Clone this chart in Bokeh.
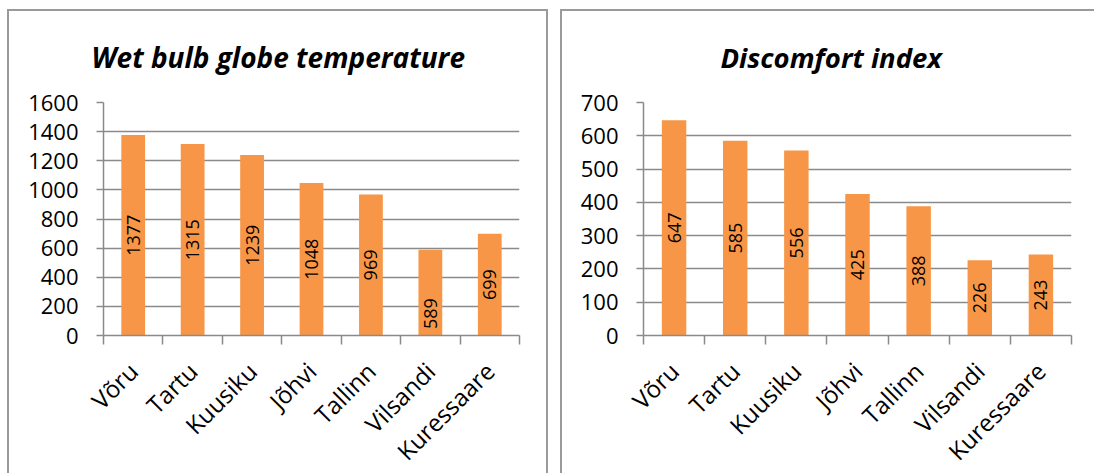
from math import pi

from bokeh.core.properties import value
from bokeh.embed import file_html
from bokeh.layouts import row
from bokeh.models import ColumnDataSource, FixedTicker, Range1d
from bokeh.plotting import figure
from bokeh.resources import INLINE

# Stations ordered as in the report
stations = ["Võru", "Tartu", "Kuusiku", "Jõhvi", "Tallinn", "Vilsandi", "Kuressaare"]

# Number of cases per station for each heat-stress index
wbgt_values = [1377, 1315, 1239, 1048, 969, 589, 699]
discomfort_values = [647, 585, 556, 425, 388, 226, 243]

# Value-axis ticks
wbgt_ticks = [0, 200, 400, 600, 800, 1000, 1200, 1400, 1600]
discomfort_ticks = [0, 100, 200, 300, 400, 500, 600, 700]

BAR_COLOR = "#F79646"
LINE_GREY = "#8a8a8a"
PANEL_GREY = "#9a9a9a"
FONT = "Open Sans"

PAGE_HEIGHT = 473
FIG_HEIGHT = 540  # lower part of each panel runs past the page edge


def bar_chart(title, values, ticks, width, border_left, border_right,
              title_offset, title_size, label_nudge=None):
    n = len(stations)
    centers = [i + 0.5 for i in range(n)]
    source = ColumnDataSource(dict(
        x=centers,
        top=values,
        mid=[v / 2 for v in values],
        label=[str(v) for v in values],
        nudge=label_nudge if label_nudge is not None else [0] * n,
    ))

    frame_top = 93
    frame_height = 233
    p = figure(
        width=width, height=FIG_HEIGHT,
        x_range=Range1d(0, n), y_range=Range1d(ticks[0], ticks[-1]),
        output_backend="svg", toolbar_location=None,
        min_border_left=border_left, min_border_right=border_right,
        min_border_top=frame_top,
        min_border_bottom=FIG_HEIGHT - frame_top - frame_height,
        outline_line_color=None,
        background_fill_color="white", border_fill_color=None,
    )

    p.title.text = title
    p.title.align = "left"
    p.title.offset = title_offset
    p.title.standoff = 53
    p.title.text_font = FONT
    p.title.text_font_size = title_size
    p.title.text_font_style = "bold italic"
    p.title.text_color = "black"

    p.vbar(x="x", top="top", bottom=0, width=0.4, source=source,
           fill_color=BAR_COLOR, line_color=None)

    # Value labels, rotated and centred inside each bar
    p.text(x="x", y="mid", text="label", source=source, angle=pi / 2,
           y_offset="nudge",
           text_align="center", text_baseline="middle",
           text_font=value(FONT), text_font_size="18px", text_color="black")

    # Category axis: names under bar centres, tick marks on category borders
    xa = p.xaxis[0]
    xa.ticker = FixedTicker(ticks=centers, minor_ticks=list(range(n + 1)))
    xa.major_label_overrides = {c: s for c, s in zip(centers, stations)}
    xa.major_label_orientation = pi / 4
    xa.major_label_text_font = FONT
    xa.major_label_text_font_size = "24px"
    xa.major_label_text_color = "black"
    xa.major_label_standoff = 22
    xa.major_tick_line_color = None
    xa.minor_tick_line_color = LINE_GREY
    xa.minor_tick_line_width = 1.5
    xa.minor_tick_in = 0
    xa.minor_tick_out = 9
    xa.axis_line_color = LINE_GREY
    xa.axis_line_width = 1.5

    # Value axis
    ya = p.yaxis[0]
    ya.ticker = FixedTicker(ticks=ticks)
    ya.major_label_text_font = FONT
    ya.major_label_text_font_size = "22px"
    ya.major_label_text_color = "black"
    ya.major_label_standoff = 18
    ya.major_tick_in = 0
    ya.major_tick_out = 7
    ya.major_tick_line_color = LINE_GREY
    ya.major_tick_line_width = 1.5
    ya.minor_tick_line_color = None
    ya.axis_line_color = LINE_GREY
    ya.axis_line_width = 1.5

    p.xgrid.visible = False
    p.ygrid.grid_line_color = LINE_GREY
    p.ygrid.grid_line_width = 1.5
    return p


left = bar_chart("Wet bulb globe temperature", wbgt_values, wbgt_ticks,
                 width=541, border_left=96, border_right=29,
                 title_offset=-12, title_size="28px",
                 label_nudge=[0, 0, 0, 0, 0, 21, 0])
# Panel frame: top, left and right edges (canvas is transparent outside the plot area)
left.styles = {"box-shadow": f"inset 2px 2px 0 0 {PANEL_GREY}, inset -2px 0 0 0 {PANEL_GREY}"}
left.margin = (9, 0, 0, 7)

right = bar_chart("Discomfort index", discomfort_values, discomfort_ticks,
                  width=534, border_left=83, border_right=23,
                  title_offset=77, title_size="27.5px")
right.styles = {"box-shadow": f"inset 2px 2px 0 0 {PANEL_GREY}"}
right.margin = (9, 0, 0, 12)

# Panels are cut off at the bottom edge of the page
layout = row(left, right, styles={"overflow": "hidden", "max-height": f"{PAGE_HEIGHT}px"})

with open("out.html", "w") as f:
    f.write(file_html(layout, INLINE))
